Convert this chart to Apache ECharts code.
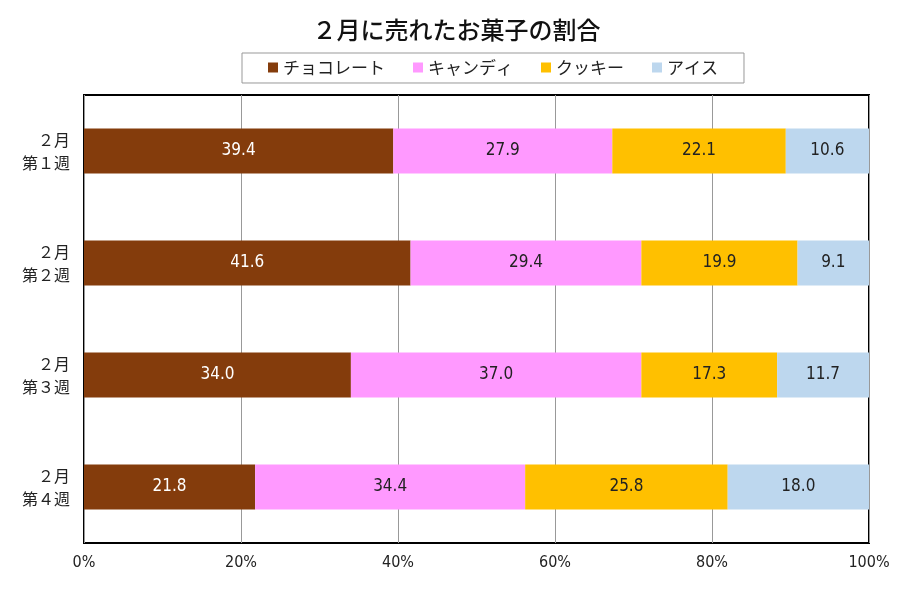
<!DOCTYPE html>
<html><head><meta charset="utf-8">
<script src="https://cdn.jsdelivr.net/npm/echarts@6/dist/echarts.min.js"></script>
<style>html,body{margin:0;padding:0;background:#fff}#c{width:913px;height:609px}</style>
</head><body><div id="c"></div>
<script>
var categories = ['２月\n第１週', '２月\n第２週', '２月\n第３週', '２月\n第４週'];
var seriesNames = ['チョコレート', 'キャンディ', 'クッキー', 'アイス'];
var chocolate = [39.4, 41.6, 34.0, 21.8];
var candy = [27.9, 29.4, 37.0, 34.4];
var cookie = [22.1, 19.9, 17.3, 25.8];
var ice = [10.6, 9.1, 11.7, 18.0];
var xTicks = [0, 20, 40, 60, 80, 100];

var colors = ['#843C0C', '#FF99FF', '#FFC000', '#BDD7EE'];
var labelColors = ['#ffffff', '#222222', '#222222', '#222222'];
var values = [chocolate, candy, cookie, ice];
var jp = '"Noto Sans CJK JP", sans-serif';
var narrow = '"Liberation Sans Narrow", "DejaVu Sans Condensed", Roboto, sans-serif';

var chart = echarts.init(document.getElementById('c'));
chart.setOption({
  animation: false,
  title: {
    text: '２月に売れたお菓子の割合', left: 'center', top: 13,
    textStyle: { fontFamily: jp, fontSize: 24, fontWeight: 500, color: '#111' }
  },
  legend: {
    data: seriesNames, top: 53, left: 242,
    borderColor: '#999', borderWidth: 1, padding: [6, 26, 7, 26],
    itemWidth: 10, itemHeight: 10, itemGap: 28, icon: 'rect',
    textStyle: { fontFamily: jp, fontSize: 17, color: '#222' }
  },
  grid: { left: 84, right: 44, top: 95, bottom: 66, show: true, borderColor: '#000', borderWidth: 2, backgroundColor: 'transparent' },
  xAxis: {
    type: 'value', min: 0, max: 100, interval: 20,
    axisLine: { show: false }, axisTick: { show: false },
    splitLine: { show: true, lineStyle: { color: '#999', width: 1 } },
    axisLabel: { formatter: function (v) { return xTicks.indexOf(v) >= 0 ? v + '%' : ''; },
      fontFamily: narrow, fontSize: 16, color: '#222', margin: 12 }
  },
  yAxis: {
    type: 'category', data: categories, inverse: true,
    axisLine: { show: false }, axisTick: { show: false },
    axisLabel: { fontFamily: jp, fontSize: 16, color: '#222', lineHeight: 23, margin: 14 }
  },
  series: seriesNames.map(function (n, i) {
    return {
      name: n, type: 'bar', stack: 'total', data: values[i],
      barCategoryGap: '60%',
      itemStyle: { color: colors[i] },
      label: { show: true, position: 'inside', color: labelColors[i], fontFamily: narrow, fontSize: 17,
        formatter: function (p) { return p.value.toFixed(1); } }
    };
  })
});
</script></body></html>
